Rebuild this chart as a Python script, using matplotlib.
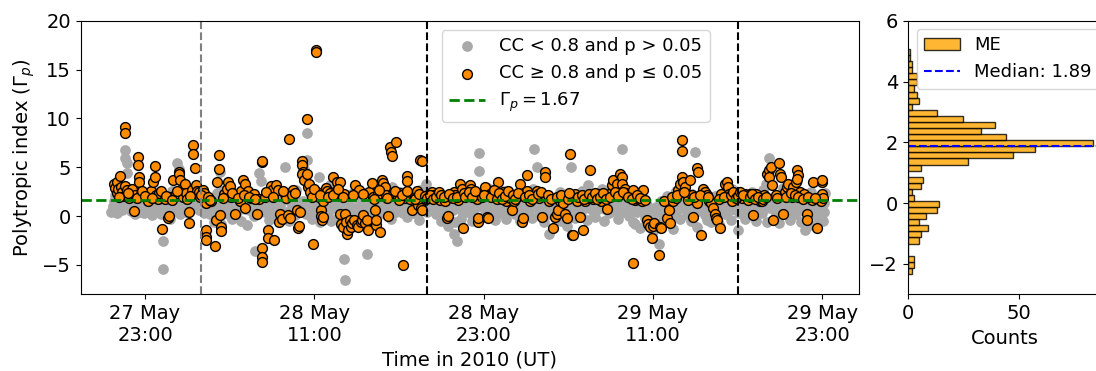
import numpy as np
import pandas as pd
import matplotlib
matplotlib.use("Agg")
import matplotlib.pyplot as plt
import matplotlib.dates as mdates

# hours since 2010-05-27 00:00 UT and polytropic index values
gray_hours = [
    20.6, 20.8, 20.9, 21.1, 21.3, 21.5, 21.6, 21.6, 21.7, 21.7,
    21.9, 22.0, 22.2, 22.4, 22.6, 22.8, 23.0, 23.1, 23.3, 23.5,
    23.7, 23.9, 24.0, 24.2, 24.3, 24.3, 24.5, 24.7, 24.9, 25.1,
    25.3, 25.4, 25.5, 25.7, 25.9, 26.1, 26.3, 26.5, 26.7, 26.9,
    27.1, 27.3, 27.5, 27.7, 27.9, 28.1, 28.3, 28.5, 28.7, 28.9,
    29.1, 29.3, 29.5, 29.7, 29.9, 30.1, 30.3, 30.5, 30.7, 30.8,
    31.0, 31.1, 31.2, 31.4, 31.6, 31.8, 32.0, 32.2, 32.4, 32.6,
    32.8, 32.9, 33.1, 33.3, 33.5, 33.7, 33.9, 34.1, 34.3, 34.5,
    34.5, 34.7, 34.9, 35.1, 35.3, 35.5, 35.7, 35.9, 36.1, 36.3,
    36.5, 36.7, 36.9, 37.1, 37.2, 37.2, 37.4, 37.6, 37.8, 38.0,
    38.2, 38.4, 38.6, 38.7, 38.9, 39.1, 39.3, 39.5, 39.7, 39.9,
    40.1, 40.3, 40.5, 40.7, 40.9, 41.1, 41.3, 41.5, 41.7, 41.9,
    42.1, 42.3, 42.5, 42.7, 42.9, 43.1, 43.3, 43.5, 43.7, 43.9,
    44.1, 44.3, 44.5, 44.7, 44.9, 45.1, 45.3, 45.5, 45.7, 45.9,
    46.1, 46.3, 46.5, 46.7, 46.7, 46.9, 47.1, 47.3, 47.5, 47.7,
    47.9, 48.1, 48.3, 48.5, 48.7, 48.9, 49.1, 49.3, 49.5, 49.7,
    49.9, 50.1, 50.3, 50.5, 50.6, 50.8, 51.0, 51.2, 51.4, 51.6,
    51.8, 52.0, 52.2, 52.4, 52.6, 52.8, 53.0, 53.2, 53.4, 53.6,
    53.8, 54.0, 54.2, 54.4, 54.6, 54.8, 55.0, 55.2, 55.4, 55.6,
    55.8, 56.0, 56.2, 56.4, 56.6, 56.8, 57.0, 57.2, 57.4, 57.6,
    57.8, 58.0, 58.2, 58.4, 58.6, 58.8, 59.0, 59.2, 59.4, 59.6,
    59.8, 60.0, 60.2, 60.4, 60.6, 60.8, 61.0, 61.2, 61.4, 61.6,
    61.8, 62.0, 62.0, 62.2, 62.4, 62.6, 62.8, 63.0, 63.2, 63.4,
    63.6, 63.8, 64.0, 64.2, 64.4, 64.6, 64.8, 65.0, 65.2, 65.4,
    65.6, 65.8, 66.0, 66.2, 66.4, 66.6, 66.8, 67.0, 67.2, 67.4,
    67.6, 67.8, 68.0, 68.2, 68.4, 68.6, 68.8, 69.0, 69.2, 69.4,
    69.6, 69.8, 70.0, 70.2, 70.4, 70.6, 70.8, 71.0, 71.1, 71.2,
    20.7, 21.0, 21.2, 21.4, 21.8, 22.1, 22.3, 22.5, 22.7, 22.9,
    23.2, 23.4, 23.6, 23.8, 24.1, 24.4, 24.6, 24.8, 25.0, 25.2,
    25.6, 25.8, 26.0, 26.2, 26.4, 26.6, 26.8, 27.0, 27.2, 27.4,
    27.6, 27.8, 28.0, 28.2, 28.4, 28.6, 28.8, 29.0, 29.2, 29.4,
    29.6, 29.8, 30.0, 30.2, 30.4, 30.6, 30.9, 31.3, 31.5, 31.7,
    31.9, 32.1, 32.3, 32.5, 32.7, 33.0, 33.2, 33.4, 33.6, 33.8,
    34.0, 34.2, 34.4, 34.6, 34.8, 35.0, 35.2, 35.4, 35.6, 35.8,
    36.0, 36.2, 36.4, 36.6, 36.8, 37.0, 37.3, 37.5, 37.7, 37.9,
    38.1, 38.3, 38.5, 38.8, 39.0, 39.2, 39.4, 39.6, 39.8, 40.0,
    40.2, 40.4, 40.6, 40.8, 41.0, 41.2, 41.4, 41.6, 41.8, 42.0,
    42.2, 42.4, 42.6, 42.8, 43.0, 43.2, 43.4, 43.6, 43.8, 44.0,
    44.2, 44.4, 44.6, 44.8, 45.0, 45.2, 45.4, 45.6, 45.8, 46.0,
    46.2, 46.4, 46.6, 46.8, 47.0, 47.2, 47.4, 47.6, 47.8, 48.0,
    48.2, 48.4, 48.6, 48.8, 49.0, 49.2, 49.4, 49.6, 49.8, 50.0,
    50.2, 50.4, 50.7, 50.9, 51.1, 51.3, 51.5, 51.7, 51.9, 52.1,
    52.3, 52.5, 52.7, 52.9, 53.1, 53.3, 53.5, 53.7, 53.9, 54.1,
    54.3, 54.5, 54.7, 54.9, 55.1, 55.3, 55.5, 55.7, 55.9, 56.1,
    56.3, 56.5, 56.7, 56.9, 57.1, 57.3, 57.5, 57.7, 57.9, 58.1,
    58.3, 58.5, 58.7, 58.9, 59.1, 59.3, 59.5, 59.7, 59.9, 60.1,
    60.3, 60.5, 60.7, 60.9, 61.1, 61.3, 61.5, 61.7, 61.9, 62.1,
    62.3, 62.5, 62.7, 62.9, 63.1, 63.3, 63.5, 63.7, 63.9, 64.1,
    64.3, 64.5, 64.7, 64.9, 65.1, 65.3, 65.5, 65.7, 65.9, 66.1,
    66.3, 66.5, 66.7, 66.9, 67.1, 67.3, 67.5, 67.7, 67.9, 68.1,
    68.3, 68.5, 68.7, 68.9, 69.1, 69.3, 69.5, 69.7, 69.9, 70.1,
    70.3, 70.5, 70.7, 70.9, 71.05, 71.15, 20.75, 21.45, 28.55, 60.55,
]
gray_gamma = [
    0.4, 1.5, 2.2, 0.9, 1.8, 2.6, 6.8, 6.0, 5.4, 4.4,
    1.2, 0.5, 2.0, 1.0, 0.4, 1.6, 0.8, 2.3, 1.4, 0.1,
    1.9, 0.6, 2.4, 1.2, -2.5, -5.4, 0.3, 1.7, 2.6, 1.0,
    5.4, 4.8, 0.2, 1.5, 2.8, 0.7, 1.9, 2.5, 1.1, 2.0,
    1.0, 2.2, 0.5, 1.6, -0.6, 2.4, 4.5, 0.9, 1.8, 0.2,
    2.6, 1.1, 0.4, 1.9, 2.3, 0.7, 1.4, 2.1, 0.0, -3.6,
    1.5, 4.4, 3.6, 0.9, 2.2, -0.4, 1.3, 0.6, 2.0, 1.1,
    0.3, 5.0, 2.4, 1.6, 0.8, 2.7, 1.2, 0.5, 4.8, 8.5,
    5.7, 1.8, 0.9, 2.5, 4.0, 1.4, 0.4, 2.2, 3.2, 1.0,
    2.6, 0.6, 1.7, -4.4, -6.5, 0.2, 1.5, 2.3, 0.8, 1.9,
    0.4, 1.3, 2.4, -3.9, 0.9, 1.7, 0.1, 2.6, 1.2, 0.6,
    2.0, 1.4, 3.0, 0.7, 1.9, 2.5, 0.3, 1.6, 2.2, 0.9,
    1.5, 0.4, 2.7, 1.1, 3.3, 1.8, 0.6, 2.3, 1.3, 0.1,
    1.9, 0.8, -1.0, 2.2, -1.8, -2.5, 1.4, 0.5, 2.5, 1.0,
    0.3, 1.7, 2.4, 6.5, 4.6, 0.9, 1.6, 2.9, 0.2, 1.3,
    2.1, 0.7, 1.5, 2.6, 0.4, 1.8, 1.0, 2.3, 0.6, 1.4,
    2.4, 0.1, 1.2, 2.8, 6.9, 5.0, 1.7, 0.5, 2.2, -1.8,
    1.0, 1.9, 0.3, 2.5, 1.4, 0.8, 2.1, 5.0, 1.2, 0.4,
    1.8, 2.6, 0.9, 3.2, 1.5, 0.2, 2.3, 1.1, 2.8, 0.7,
    1.6, 3.0, 2.4, 1.0, 1.9, 6.9, 0.5, 2.2, 1.3, -0.6,
    2.5, 0.8, 1.5, -0.2, 1.1, 0.3, -1.5, 0.9, -2.8, 1.6,
    0.4, 2.1, 1.2, -1.3, 2.6, 0.7, 1.8, 2.9, 0.2, 1.4,
    2.3, 6.6, 1.0, 0.5, 1.9, 2.6, -0.4, 1.3, 0.8, 2.1,
    0.2, 1.6, 2.4, 1.0, 0.6, 2.8, 1.4, -1.4, 2.0, 0.9,
    1.7, 0.3, 2.5, 1.1, 1.9, 0.5, 2.7, 3.3, 5.9, 1.4,
    0.8, 2.2, 1.0, 2.9, 1.6, 0.4, 2.4, 1.2, 3.6, 0.6,
    1.9, -1.4, 1.1, 2.5, 0.3, 1.5, 2.0, 0.7, 1.3, 2.4,
    1.0, 0.3, 1.2, 0.6, 0.9, 1.5, 0.2, 1.3, 0.7, 0.3,
    0.9, 1.7, 0.5, 1.1, 0.2, 1.4, 0.8, -0.3, 1.5, 0.5,
    1.0, 0.4, 1.3, 1.6, 0.9, 1.5, 0.6, 1.4, 0.3, 1.3,
    0.2, 1.0, 1.3, 0.6, -0.8, 1.2, 0.4, 1.1, -0.3, 1.5,
    0.9, -0.5, 1.2, -0.9, 0.6, 1.0, 0.5, 1.2, 0.4, 1.0,
    0.2, 1.6, -0.2, 0.8, 1.5, 0.4, -0.5, 1.0, 0.1, 1.4,
    0.9, 1.6, 0.2, 1.2, -0.3, 0.5, 1.3, -0.6, 0.8, 1.5,
    0.2, -0.5, 0.9, -0.3, 1.2, 0.5, -0.2, 0.8, -0.6, 0.3,
    -0.3, 0.7, -0.5, 0.5, -0.2, 1.0, -0.7, 0.4, 1.5, 0.2,
    0.9, -0.3, 1.2, 0.4, 1.0, 1.6, 0.6, -0.1, 1.1, 0.3,
    1.2, -0.4, 0.9, 1.6, 0.4, 1.1, 1.5, 0.2, 0.9, -0.5,
    1.2, 0.3, 1.5, 0.6, -0.6, 1.0, -0.3, 1.4, 0.4, 1.2,
    -0.5, 0.8, 1.3, -0.2, 1.1, 0.5, 1.4, 0.9, -0.4, 1.0,
    0.3, 1.2, -0.3, 0.9, 1.5, 0.2, 1.1, -0.5, 0.8, 1.5,
    0.6, -0.2, 1.2, 0.4, 1.3, -0.6, 0.9, 0.2, 1.4, -0.3,
    0.9, -0.5, 1.1, -1.0, 0.6, 1.5, -0.2, 1.0, 0.4, 1.3,
    -0.4, 0.8, 1.4, -0.1, 0.7, 1.5, -0.5, 1.0, 0.3, 1.3,
    0.6, -0.3, 1.1, 0.4, 1.5, 0.0, 0.8, -0.8, 0.4, -1.2,
    0.6, -0.8, 0.2, -0.3, 0.5, -1.0, 0.3, -0.4, 0.9, -0.6,
    1.1, 0.2, 1.3, -0.3, 0.9, 1.5, 0.4, -0.5, 1.1, -1.1,
    0.8, 1.4, 0.1, 1.0, -0.6, 1.5, 0.6, -0.8, 0.9, 0.2,
    1.3, -0.4, 0.7, 1.6, 0.3, 1.2, -0.3, 0.8, 1.4, 0.6,
    -0.5, 1.2, 0.3, 1.0, -0.6, 0.8, 1.5, 0.2, -0.7, 1.2,
    0.5, 1.4, -0.4, 0.9, 0.2, 1.5, -0.6, 1.0, 0.5, -0.9,
    0.8, 1.6, -0.2, 1.1, -0.5, 0.4, 0.7, 1.9, 2.6, 2.4,
]

orange_hours = [
    20.8, 20.9, 21.0, 21.0, 21.1, 21.2, 21.3, 21.4, 21.5, 21.6,
    21.6, 21.6, 21.7, 21.9, 22.0, 22.1, 22.2, 22.3, 22.5, 22.5,
    22.6, 22.6, 22.7, 22.9, 23.1, 23.2, 23.4, 23.6, 23.7, 23.7,
    23.8, 23.9, 24.0, 24.2, 24.4, 24.6, 24.7, 24.8, 25.0, 25.1,
    25.2, 25.4, 25.4, 25.5, 25.6, 25.7, 25.8, 25.9, 26.0, 26.1,
    26.15, 26.3, 26.4, 26.4, 26.55, 26.6, 26.7, 26.8, 26.85, 27.1,
    27.2, 27.3, 27.3, 27.3, 27.35, 27.5, 27.7, 27.96, 28.0, 28.1,
    28.27, 28.27, 28.3, 28.35, 28.4, 28.6, 28.8, 28.9, 29.0, 29.1,
    29.38, 29.5, 29.7, 29.8, 29.97, 30.1, 30.1, 30.3, 30.5, 30.7,
    30.92, 31.1, 31.27, 31.3, 31.3, 31.3, 31.3, 31.5, 31.75, 31.75,
    31.9, 32.0, 32.17, 32.3, 32.45, 32.5, 32.6, 32.7, 32.9, 33.0,
    33.16, 33.23, 33.3, 33.5, 33.75, 33.85, 33.9, 34.0, 34.1, 34.15,
    34.2, 34.15, 34.3, 34.46, 34.5, 34.55, 34.6, 34.7, 34.89, 35.12,
    35.12, 35.2, 35.3, 35.45, 35.5, 35.55, 35.6, 35.64, 35.8, 35.9,
    36.1, 36.35, 36.5, 36.6, 36.8, 36.8, 36.9, 37.0, 37.1, 37.18,
    37.25, 37.34, 37.42, 37.5, 37.6, 37.7, 37.8, 37.9, 38.0, 38.1,
    38.2, 38.3, 38.36, 38.47, 38.6, 38.7, 38.83, 38.9, 39.07, 39.15,
    39.3, 39.37, 39.4, 39.5, 39.66, 39.8, 39.85, 40.0, 40.1, 40.25,
    40.37, 40.45, 40.5, 40.6, 40.79, 40.9, 41.1, 41.3, 41.4, 41.55,
    41.55, 41.7, 41.8, 41.9, 42.0, 42.15, 42.25, 42.37, 42.5, 42.55,
    42.6, 42.6, 42.75, 42.9, 43.1, 43.32, 43.5, 43.7, 43.9, 44.1,
    44.26, 44.38, 44.45, 44.7, 44.9, 45.0, 45.2, 45.32, 45.45, 45.51,
    45.8, 46.03, 46.1, 46.3, 46.5, 46.62, 46.62, 46.75, 46.9, 47.1,
    47.21, 47.3, 47.45, 47.69, 47.85, 48.04, 48.2, 48.4, 48.55, 48.65,
    48.85, 48.99, 49.15, 49.35, 49.58, 49.69, 49.8, 50.05, 50.1, 50.3,
    50.6, 50.75, 50.95, 51.11, 51.35, 51.35, 51.45, 51.6, 51.94, 52.05,
    52.17, 52.3, 52.4, 52.65, 52.75, 52.88, 53.12, 53.24, 53.35, 53.5,
    53.6, 53.85, 54.07, 54.2, 54.35, 54.54, 54.75, 55.1, 55.35, 55.55,
    55.72, 55.85, 56.07, 56.19, 56.42, 56.66, 56.78, 56.78, 57.0, 57.1,
    57.35, 57.61, 57.6, 57.75, 57.95, 58.2, 58.27, 58.56, 58.68, 58.8,
    58.91, 59.0, 59.1, 59.42, 59.5, 59.6, 59.8, 59.97, 60.1, 60.2,
    60.45, 60.6, 60.8, 60.9, 61.03, 61.03, 61.03, 61.15, 61.3, 61.4,
    61.5, 61.63, 61.75, 61.86, 62.1, 62.2, 62.1, 62.38, 62.57, 62.7,
    62.8, 63.0, 63.1, 63.25, 63.37, 63.5, 63.55, 63.75, 63.85, 64.1,
    64.22, 64.3, 64.4, 64.6, 64.8, 65.1, 65.3, 65.5, 65.65, 65.75,
    66.11, 66.3, 66.55, 66.7, 67.06, 67.2, 67.25, 67.35, 67.45, 67.53,
    67.9, 68.0, 68.1, 68.24, 68.35, 68.5, 68.6, 68.7, 68.85, 68.95,
    69.1, 69.2, 69.25, 69.2, 69.4, 69.5, 69.9, 69.9, 70.37, 70.6,
    70.8, 70.96, 71.0, 70.9, 71.03, 71.0, 70.3, 69.7, 66.9, 65.9,
    21.15, 21.8, 22.4, 22.8, 23.0, 23.5, 24.1, 24.5, 24.9, 25.3,
    26.2, 26.9, 27.0, 27.45, 27.6, 28.5, 29.2, 29.6, 30.0, 30.4,
    30.8, 31.6, 32.1, 32.8, 33.4, 33.6, 34.8, 35.0, 35.4, 36.0,
    36.3, 36.7, 37.05, 37.75, 38.45, 39.2, 39.6, 40.15, 40.7, 41.0,
    41.2, 41.6, 42.1, 42.45, 42.85, 43.0, 43.2, 43.4, 43.6, 43.8,
    44.0, 44.2, 44.55, 44.8, 45.1, 45.6, 45.7, 45.95, 46.2, 46.4,
    47.0, 47.55, 47.75, 47.95, 48.1, 48.3, 48.5, 48.75, 49.05, 49.25,
    49.45, 49.9, 50.2, 50.45, 50.85, 51.05, 51.55, 51.75, 52.2, 52.5,
    52.95, 53.05, 53.7, 53.95, 54.1, 54.45, 54.65, 54.9, 55.0, 55.25,
    55.45, 55.65, 55.95, 56.3, 56.55, 56.9, 57.2, 57.5, 57.85, 58.05,
    58.4, 60.35, 60.7, 61.2, 61.9, 62.3, 62.9, 63.65, 64.0, 64.5,
    64.7, 64.9, 65.0, 65.2, 65.4, 65.85, 66.0, 66.2, 66.45, 66.8,
    67.0, 67.7, 67.8, 68.4, 68.8, 69.05, 69.3, 69.6, 70.0, 70.5,
]
orange_gamma = [
    3.3, 2.9, 3.5, 2.4, 2.8, 4.1, 3.0, 2.5, 2.1, 9.1,
    8.5, 3.1, 2.7, 1.9, 2.3, 2.8, 0.55, 2.2, 6.1, 5.2,
    4.0, 3.5, 2.3, 2.2, 2.0, 1.6, 2.6, 3.5, 5.1, 4.0,
    2.2, 1.8, 2.4, -1.3, 1.8, -0.2, 0.0, 2.0, 3.7, 2.1,
    2.3, 4.5, 4.3, 3.7, 2.8, 2.0, 3.3, 2.4, 1.8, -0.75,
    0.38, 2.7, 7.25, 6.4, 4.9, 3.2, 2.6, 2.3, 2.5, 2.65,
    2.4, 1.3, -1.4, -2.1, -2.45, 1.8, 1.5, -3.1, -0.4, 3.5,
    6.3, 4.8, 0.1, -1.1, -1.5, 2.3, 2.8, 3.5, 3.1, 2.0,
    0.27, 2.2, 1.6, 2.6, 3.7, 3.3, 0.8, 2.6, 1.9, 2.3,
    0.27, 1.8, 5.5, 5.6, -3.3, -4.15, -4.66, 2.0, -1.43, -2.2,
    3.1, 2.7, -2.4, 3.2, 2.65, -0.6, 0.27, -0.3, 2.3, 1.9,
    0.1, 7.9, -0.2, 2.65, 0.6, -1.26, -1.0, 0.4, 5.6, 5.2,
    4.5, 4.3, 3.7, 9.97, 4.3, 3.0, 3.3, 2.5, -2.8, 17.0,
    16.8, 2.5, 2.0, 0.6, 0.0, -0.4, -0.1, 1.6, 2.9, 2.6,
    2.4, 4.0, 2.6, 3.5, 3.5, 0.27, -0.8, -1.1, 2.3, 0.27,
    -0.6, -1.8, -1.4, -0.4, -1.1, -0.7, -0.4, 3.2, -0.9, -1.1,
    2.7, -0.6, -0.4, 0.1, -0.7, -0.4, -1.4, 2.5, 3.4, 2.0,
    0.6, -0.9, -0.4, 2.3, -1.6, 3.7, 3.4, 3.0, 2.2, 0.0,
    7.07, 6.57, 6.2, 2.3, 7.6, 2.0, 2.4, -5.0, 1.9, 4.1,
    3.6, 2.3, 1.8, 0.6, 2.2, 2.0, 2.6, 1.1, 5.7, 0.8,
    5.6, 0.6, 2.0, 1.8, 2.3, 2.5, 2.2, 2.3, 1.7, 2.0,
    1.6, -0.24, 0.0, 2.0, 2.5, 2.2, 1.7, 3.3, 2.8, -1.26,
    2.3, 3.2, 2.8, 2.3, 1.8, -0.6, -0.24, 2.4, 2.0, 3.0,
    -0.07, -0.2, 2.3, 2.5, 2.2, 3.5, 2.0, 2.5, 1.6, 2.3,
    1.9, 0.6, 1.6, 2.0, 3.3, -0.6, -0.24, 4.2, 2.6, 1.6,
    2.1, 2.6, 1.9, -0.07, 4.5, 4.0, 2.0, 1.6, -1.26, -0.07,
    0.27, 0.6, 1.5, 1.3, 0.27, -0.24, 6.4, -1.94, -1.94, 2.3,
    1.6, -0.07, -1.43, 1.6, 1.9, 4.7, 1.8, 2.3, 1.6, 2.0,
    0.78, 2.3, 3.2, 3.7, 3.3, 4.35, 4.0, 3.3, 2.8, 2.4,
    2.3, -4.76, 2.65, 1.7, 1.8, 1.6, 2.7, -0.4, -0.8, -1.1,
    -2.2, -1.0, -0.75, -4.0, -1.1, -1.2, 1.6, -0.24, 0.6, -0.75,
    1.6, 1.9, 2.65, 3.3, 7.8, 6.7, 4.0, 3.5, 3.0, 2.3,
    1.7, 3.7, 2.2, -0.07, 4.9, 4.5, 1.3, -1.94, 2.8, 2.5,
    2.2, 1.6, 1.3, 0.8, 0.27, -0.24, -0.4, -1.26, 2.3, 3.3,
    3.5, 3.0, 2.3, 1.6, 2.3, 2.4, 1.9, 2.3, 2.0, 1.7,
    0.1, 2.3, 1.6, 1.6, 4.35, 4.7, 4.0, 5.0, 3.2, -0.4,
    5.4, 4.35, 4.0, 0.27, 2.5, 3.0, 3.3, 2.3, 2.0, 3.0,
    3.5, 4.7, 4.2, 3.8, 2.5, 2.0, 0.27, -0.4, 3.5, -1.26,
    1.8, 3.5, 2.3, 1.6, 1.9, 3.7, 1.7, 2.3, 2.2, 2.3,
    2.0, 2.4, 1.9, 2.6, 2.1, 1.9, 2.6, 2.1, 1.7, 2.6,
    2.1, 2.0, 2.2, 2.0, 1.7, 1.9, 2.4, 1.9, 2.2, 2.0,
    1.8, 2.5, 2.0, 2.6, 2.2, 2.4, 2.0, 2.8, 2.2, 2.0,
    2.2, 2.8, 2.0, 2.2, 2.3, 1.8, 2.7, 1.9, 2.6, 1.7,
    2.2, 2.6, 1.8, 2.3, 2.1, 1.9, 2.2, 1.8, 2.0, 2.5,
    2.2, 2.0, 2.3, 1.9, 2.0, 2.4, 2.0, 2.5, 2.0, 2.6,
    2.2, 2.0, 2.7, 1.8, 2.4, 1.8, 2.1, 2.6, 2.2, 1.8,
    2.4, 2.0, 2.2, 1.8, 2.3, 2.5, 2.2, 1.8, 2.0, 2.2,
    1.8, 2.4, 2.0, 2.2, 1.8, 2.3, 2.0, 2.4, 1.8, 2.0,
    2.4, 1.8, 2.0, 2.5, 2.1, 2.5, 2.0, 1.8, 2.2, 1.9,
    1.7, 2.0, 2.2, 2.5, 2.0, 2.2, 2.0, 1.8, 2.0, 2.2,
    2.5, 1.9, 2.1, 2.5, 2.2, 2.0, 2.3, 1.8, 2.0, 1.8,
    2.0, 2.2, 1.9, 2.0, 2.4, 2.2, 2.0, 1.8, 2.0, 1.9,
]

# histogram of ME values (bin width 0.2 starting at -2.33)
hist_start = -2.33
hist_width = 0.2
hist_counts = [2, 3, 3, 0, 0, 5, 6, 9, 5, 8, 13, 14, 3, 2, 6, 7, 0, 6, 27, 47,
               57, 83, 44, 33, 39, 25, 13, 2, 5, 4, 3, 4, 4, 2, 2, 1, 1]
median_val = 1.89
gamma_ref = 1.67

t0 = pd.Timestamp("2010-05-27")
gray_t = t0 + pd.to_timedelta(gray_hours, unit="h")
orange_t = t0 + pd.to_timedelta(orange_hours, unit="h")

fig = plt.figure(figsize=(10.96, 3.71), dpi=100)
ax = fig.add_axes([0.0736, 0.2067, 0.7099, 0.7375])
axh = fig.add_axes([0.8282, 0.2067, 0.1773, 0.7375])

ax.scatter(gray_t, gray_gamma, s=45, color="darkgray", label="CC < 0.8 and p > 0.05")
ax.scatter(orange_t, orange_gamma, s=50, color="darkorange", edgecolor="black",
           linewidth=1, label="CC ≥ 0.8 and p ≤ 0.05")
ax.axhline(gamma_ref, color="green", linestyle="--", linewidth=2,
           label=r"$\Gamma_p = 1.67$")
ax.axvline(t0 + pd.Timedelta(hours=27), color="gray", linestyle="--", linewidth=1.5)
ax.axvline(t0 + pd.Timedelta(hours=43), color="black", linestyle="--", linewidth=1.5)
ax.axvline(t0 + pd.Timedelta(hours=65), color="black", linestyle="--", linewidth=1.5)

ax.set_xlim(t0 + pd.Timedelta(hours=18.44), t0 + pd.Timedelta(hours=73.58))
ax.set_ylim(-8, 20)
ax.set_xticks([t0 + pd.Timedelta(hours=h) for h in [23, 35, 47, 59, 71]])
ax.xaxis.set_major_formatter(mdates.DateFormatter("%d %b\n%H:%M"))
ax.tick_params(labelsize=14)
ax.set_xlabel("Time in 2010 (UT)", fontsize=14)
ax.set_ylabel(r"Polytropic index ($\Gamma_p$)", fontsize=14)
ax.legend(fontsize=13, loc="upper left", bbox_to_anchor=(0.464, 0.966),
          borderaxespad=0)

edges = hist_start + hist_width * np.arange(len(hist_counts) + 1)
centers = edges[:-1] + hist_width / 2
axh.hist(centers, bins=edges, weights=hist_counts, orientation="horizontal",
         color="orange", edgecolor="black", alpha=0.8, label="ME")
axh.axhline(median_val, color="blue", linestyle="--", linewidth=1.5,
            label=f"Median: {median_val:.2f}")
axh.set_ylim(-3, 6)
axh.tick_params(labelsize=14)
axh.set_xlabel("Counts", fontsize=14)
axh.legend(fontsize=13, loc="upper left", bbox_to_anchor=(0.046, 0.969),
           borderaxespad=0)

fig.savefig("out.png", dpi=100)
